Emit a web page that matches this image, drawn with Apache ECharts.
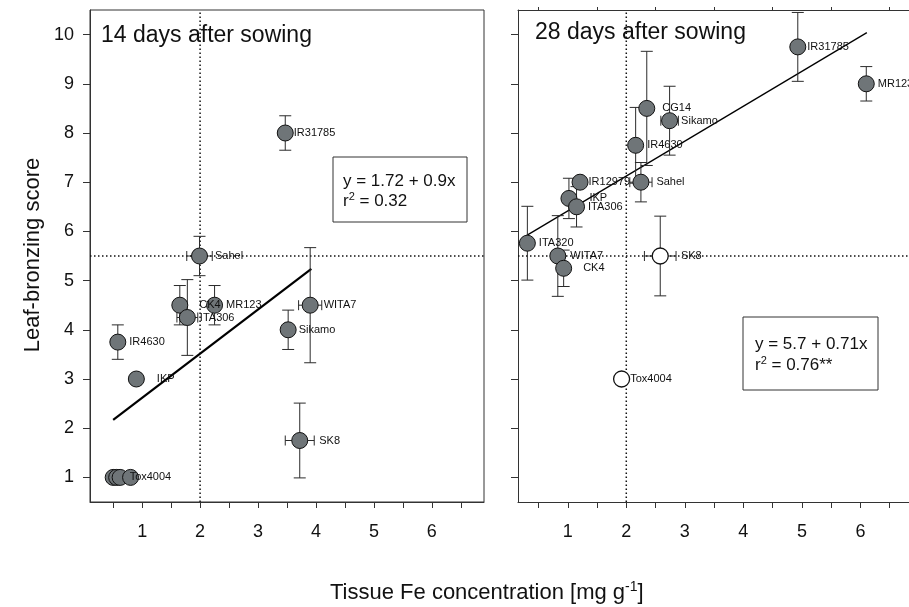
<!DOCTYPE html>
<html>
<head>
<meta charset="utf-8">
<script src="https://cdn.jsdelivr.net/npm/echarts@6/dist/echarts.min.js"></script>
<style>
  html, body { margin: 0; padding: 0; background: #fff; }
  #chart { width: 909px; height: 607px; }
</style>
</head>
<body>
<div id="chart"></div>
<script>
// 14 days after sowing
var names14 = ['IR31785', 'Sahel', 'CK4', 'MR123', 'ITA306', 'WITA7', 'Sikamo', 'IR4630', 'IKP', 'SK8', '', '', 'Tox4004', ''];
var fe14 = [3.47, 1.99, 1.65, 2.25, 1.78, 3.90, 3.52, 0.58, 0.90, 3.72, 0.50, 0.56, 0.62, 0.80];
var score14 = [8.0, 5.5, 4.5, 4.5, 4.25, 4.5, 4.0, 3.75, 3.0, 1.75, 1.0, 1.0, 1.0, 1.0];
var feErr14 = [0.1, 0.22, 0.1, 0, 0.18, 0.2, 0, 0, 0, 0.25, 0, 0, 0, 0];
var scoreErr14 = [0.35, 0.4, 0.4, 0.4, 0.77, 1.17, 0.4, 0.35, 0, 0.76, 0, 0, 0, 0];
var reg14 = [[0.5, 2.17], [3.92, 5.24]];

// 28 days after sowing (filled)
var names28 = ['IR31785', 'MR123', 'CG14', 'Sikamo', 'IR4630', 'Sahel', 'IR12979', 'IKP', 'ITA306', 'ITA320', 'WITA7', 'CK4'];
var fe28 = [4.93, 6.10, 2.35, 2.74, 2.16, 2.25, 1.21, 1.02, 1.15, 0.31, 0.83, 0.93];
var score28 = [9.75, 9.0, 8.5, 8.25, 7.75, 7.0, 7.0, 6.67, 6.5, 5.76, 5.5, 5.25];
var feErr28 = [0, 0, 0, 0.15, 0.05, 0.19, 0, 0, 0, 0, 0, 0];
var scoreErr28 = [0.7, 0.35, 1.16, 0.7, 0.77, 0.4, 0, 0.41, 0.41, 0.75, 0.82, 0.37];
// 28 days, open symbols
var namesOpen28 = ['SK8', 'Tox4004'];
var feOpen28 = [2.58, 1.92];
var scoreOpen28 = [5.5, 3.0];
var feErrOpen28 = [0.27, 0];
var scoreErrOpen28 = [0.81, 0];
var reg28 = [[0.30, 5.92], [6.11, 10.04]];

var refFe = 2;
var refScore = 5.5;
var xTicks = [1, 2, 3, 4, 5, 6];
var xMinorTicks = [0.5, 1, 1.5, 2, 2.5, 3, 3.5, 4, 4.5, 5, 5.5, 6, 6.5];
var xTopTicks = [0.5, 1.5, 2.5, 3.5, 4.5, 5.5, 6.5];
var yTicks = [1, 2, 3, 4, 5, 6, 7, 8, 9, 10];

// gap between marker and its label, px
var gap14 = { IR31785: 0, Sahel: 7, CK4: 11, MR123: 3, ITA306: 4, WITA7: 5, Sikamo: 2, IR4630: 3, IKP: 12, SK8: 11, Tox4004: 1 };
var gap28 = { IR31785: 1, MR123: 3, CG14: 7, Sikamo: 3, IR4630: 3, Sahel: 7, IR12979: 0, IKP: 12, ITA306: 3, ITA320: 3, WITA7: 4, CK4: 11, SK8: 12, Tox4004: 0 };

var FONT = 'Liberation Sans, Arial, sans-serif';

function points(names, xs, ys, gaps) {
    return names.map(function (n, i) {
        return {
            name: n,
            value: [xs[i], ys[i]],
            label: { distance: gaps[n] || 0 }
        };
    });
}
function errRows(xs, ys, xe, ye) {
    return xs.map(function (x, i) { return [x, ys[i], xe[i], ye[i]]; });
}

function renderErr(params, api) {
    var x = api.value(0), y = api.value(1), xe = api.value(2), ye = api.value(3);
    var st = { stroke: '#2b2b2b', lineWidth: 1 };
    var kids = [];
    if (ye > 0) {
        var t = api.coord([x, y + ye]), b = api.coord([x, y - ye]);
        kids.push({ type: 'line', shape: { x1: t[0], y1: t[1], x2: b[0], y2: b[1] }, style: st });
        kids.push({ type: 'line', shape: { x1: t[0] - 6, y1: t[1], x2: t[0] + 6, y2: t[1] }, style: st });
        kids.push({ type: 'line', shape: { x1: b[0] - 6, y1: b[1], x2: b[0] + 6, y2: b[1] }, style: st });
    }
    if (xe > 0) {
        var l = api.coord([x - xe, y]), r = api.coord([x + xe, y]);
        kids.push({ type: 'line', shape: { x1: l[0], y1: l[1], x2: r[0], y2: r[1] }, style: st });
        kids.push({ type: 'line', shape: { x1: l[0], y1: l[1] - 5, x2: l[0], y2: l[1] + 5 }, style: st });
        kids.push({ type: 'line', shape: { x1: r[0], y1: r[1] - 5, x2: r[0], y2: r[1] + 5 }, style: st });
    }
    return { type: 'group', children: kids };
}

function xAxisOf(g, min, max) {
    return {
        type: 'value', gridIndex: g, min: min, max: max,
        axisLine: { show: true, onZero: false, lineStyle: { color: '#333', width: 1 } },
        axisTick: { show: true, customValues: xMinorTicks, length: 6, lineStyle: { color: '#333' } },
        axisLabel: { customValues: xTicks, fontSize: 18, color: '#111', margin: 21, fontFamily: FONT },
        splitLine: { show: false }
    };
}
function yAxisOf(g, labels) {
    return {
        type: 'value', gridIndex: g, min: 0.5, max: 10.5,
        axisLine: { show: true, onZero: false, lineStyle: { color: '#333', width: 1 } },
        axisTick: { show: true, customValues: yTicks, length: 7, lineStyle: { color: '#333' } },
        axisLabel: { show: labels, customValues: yTicks, fontSize: 18, color: '#111', margin: 16, fontFamily: FONT },
        splitLine: { show: false }
    };
}

var dotted = { color: '#111', width: 1.5, type: [1.5, 2.5] };
function refLines(ax, xmin, xmax) {
    return [{
        type: 'line', xAxisIndex: ax, yAxisIndex: ax, symbol: 'none', silent: true, z: 1,
        data: [[refFe, 0.5], [refFe, 10.5]], lineStyle: dotted
    }, {
        type: 'line', xAxisIndex: ax, yAxisIndex: ax, symbol: 'none', silent: true, z: 1,
        data: [[xmin, refScore], [xmax, refScore]], lineStyle: dotted
    }];
}

var markerLabel = {
    show: true, position: 'right', formatter: '{b}',
    fontSize: 11, color: '#111', fontFamily: FONT
};

var chart = echarts.init(document.getElementById('chart'));
var option = {
    backgroundColor: '#fff',
    animation: false,
    grid: [
        { left: 90, top: 10, width: 394, height: 492, show: true, borderColor: '#333', borderWidth: 1 },
        { left: 518, top: 10, right: 0, height: 492, show: false }
    ],
    xAxis: [
        xAxisOf(0, 0.1, 6.9),
        xAxisOf(1, 0.15, 6.83),
        {
            type: 'value', gridIndex: 1, position: 'top', min: 0.15, max: 6.83,
            axisLine: { show: true, onZero: false, lineStyle: { color: '#333', width: 1 } },
            axisTick: { show: true, customValues: xTopTicks, length: 3, lineStyle: { color: '#333' } },
            axisLabel: { show: false }, splitLine: { show: false }
        }
    ],
    yAxis: [yAxisOf(0, true), yAxisOf(1, false)],
    series: refLines(0, 0.1, 6.9).concat(refLines(1, 0.15, 6.83)).concat([
        {
            type: 'line', xAxisIndex: 0, yAxisIndex: 0, symbol: 'none', z: 2,
            data: reg14, lineStyle: { color: '#000', width: 2.2 }
        },
        {
            type: 'line', xAxisIndex: 1, yAxisIndex: 1, symbol: 'none', z: 2,
            data: reg28, lineStyle: { color: '#000', width: 1.3 }
        },
        {
            type: 'custom', xAxisIndex: 0, yAxisIndex: 0, z: 3,
            renderItem: renderErr, encode: { x: 0, y: 1 },
            data: errRows(fe14, score14, feErr14, scoreErr14)
        },
        {
            type: 'custom', xAxisIndex: 1, yAxisIndex: 1, z: 3,
            renderItem: renderErr, encode: { x: 0, y: 1 },
            data: errRows(fe28, score28, feErr28, scoreErr28).concat(errRows(feOpen28, scoreOpen28, feErrOpen28, scoreErrOpen28))
        },
        {
            type: 'scatter', xAxisIndex: 0, yAxisIndex: 0, z: 4, symbolSize: 16,
            itemStyle: { color: '#6f7578', borderColor: '#111', borderWidth: 1, opacity: 1 },
            label: markerLabel,
            data: points(names14, fe14, score14, gap14)
        },
        {
            type: 'scatter', xAxisIndex: 1, yAxisIndex: 1, z: 4, symbolSize: 16,
            itemStyle: { color: '#6f7578', borderColor: '#111', borderWidth: 1, opacity: 1 },
            label: markerLabel,
            data: points(names28, fe28, score28, gap28)
        },
        {
            type: 'scatter', xAxisIndex: 1, yAxisIndex: 1, z: 4, symbolSize: 16,
            itemStyle: { color: '#fff', borderColor: '#111', borderWidth: 1.3, opacity: 1 },
            label: markerLabel,
            data: points(namesOpen28, feOpen28, scoreOpen28, gap28)
        }
    ]),
    graphic: [
        { type: 'text', left: 101, top: 24, style: { text: '14 days after sowing', fontSize: 23, fill: '#111', fontFamily: FONT } },
        { type: 'text', left: 535, top: 21, style: { text: '28 days after sowing', fontSize: 23, fill: '#111', fontFamily: FONT } },
        { type: 'rect', shape: { x: 333, y: 157, width: 134, height: 65 }, style: { fill: '#fff', stroke: '#333', lineWidth: 1 }, z: 10 },
        {
            type: 'text', x: 343, y: 171, z: 11,
            style: {
                text: '{a|y = 1.72 + 0.9x}\n{a|r}{s|2}{a| = 0.32}', fontFamily: FONT,
                rich: { a: { fontSize: 17, lineHeight: 20, fill: '#111', fontFamily: FONT }, s: { fontSize: 11, verticalAlign: 'top', lineHeight: 20, fill: '#111', fontFamily: FONT } }
            }
        },
        { type: 'rect', shape: { x: 743, y: 317, width: 135, height: 73 }, style: { fill: '#fff', stroke: '#333', lineWidth: 1 }, z: 10 },
        {
            type: 'text', x: 755, y: 334, z: 11,
            style: {
                text: '{a|y = 5.7 + 0.71x}\n{a|r}{s|2}{a| = 0.76**}', fontFamily: FONT,
                rich: { a: { fontSize: 17, lineHeight: 21, fill: '#111', fontFamily: FONT }, s: { fontSize: 11, verticalAlign: 'top', lineHeight: 21, fill: '#111', fontFamily: FONT } }
            }
        },
        {
            type: 'text', x: 33, y: 255, rotation: Math.PI / 2,
            style: { text: 'Leaf-bronzing score', fontSize: 22, fill: '#111', fontFamily: FONT, align: 'center', verticalAlign: 'middle' }
        },
        {
            type: 'text', x: 330, y: 580,
            style: {
                text: '{a|Tissue Fe concentration [mg g}{s|-1}{a|]}', fontFamily: FONT,
                rich: { a: { fontSize: 22, lineHeight: 26, fill: '#111', fontFamily: FONT }, s: { fontSize: 14, verticalAlign: 'top', lineHeight: 26, fill: '#111', fontFamily: FONT } }
            }
        }
    ]
};
chart.setOption(option);
window.addEventListener('resize', chart.resize);
</script>
</body>
</html>
